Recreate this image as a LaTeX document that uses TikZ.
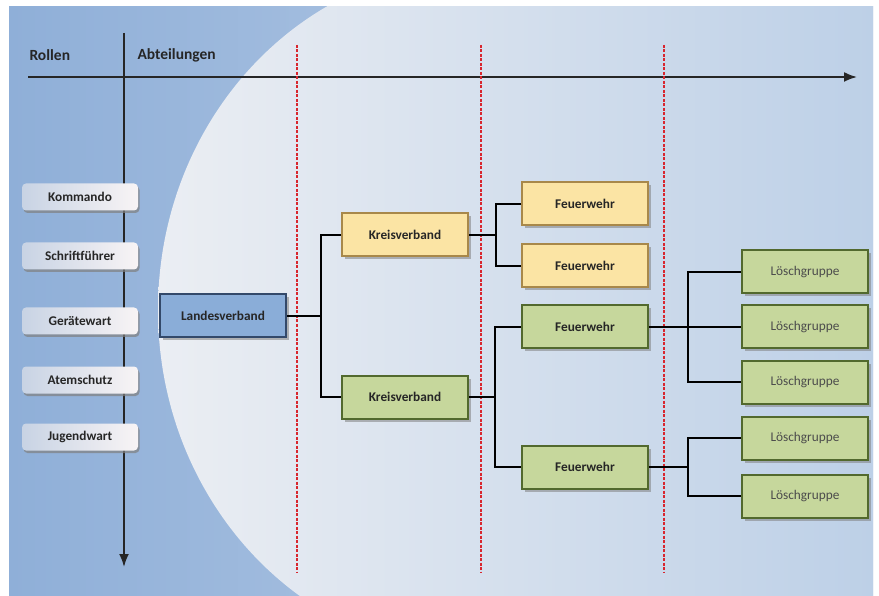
\documentclass[tikz,border=0pt]{standalone}
\usepackage{fontspec}
\setmainfont{Carlito}
\usepackage{tikz}
\usetikzlibrary{arrows.meta}
\usetikzlibrary{shadows}
\definecolor{BgLeft}{HTML}{8FAFD8}
\definecolor{BgRight}{HTML}{C2D3E9}
\definecolor{GlowLeft}{HTML}{EBEEF3}
\definecolor{GlowMid}{HTML}{DAE2EC}
\definecolor{GlowRight}{HTML}{BDD0E7}
\definecolor{RoleLeft}{HTML}{C8D3E4}
\definecolor{RoleRight}{HTML}{F8F4F5}
\definecolor{TextGray}{HTML}{262626}
\definecolor{LandFill}{HTML}{8AADD8}
\definecolor{LandDraw}{HTML}{33496A}
\definecolor{YellowFill}{HTML}{FBE4A4}
\definecolor{YellowDraw}{HTML}{A8884A}
\definecolor{GreenFill}{HTML}{C6D79C}
\definecolor{GreenDraw}{HTML}{52692E}
\definecolor{DivRed}{HTML}{D8262E}
\tikzstyle{RoleNode}=[rectangle, rounded corners=4pt, minimum width=116pt, minimum height=27pt, inner sep=0pt, left color=RoleLeft, right color=RoleRight, drop shadow={shadow xshift=1.5pt, shadow yshift=-2.5pt, opacity=.7}, font=\bfseries\fontsize{13.3}{16}\selectfont, text=TextGray]
\tikzstyle{OrgNode}=[rectangle, line width=2pt, minimum width=126pt, minimum height=43pt, inner sep=0pt, drop shadow={shadow xshift=2.5pt, shadow yshift=-3pt, opacity=.55}, font=\bfseries\fontsize{13.3}{16}\selectfont, text=TextGray]
\tikzstyle{LandNode}=[OrgNode, fill=LandFill, draw=LandDraw]
\tikzstyle{YellowNode}=[OrgNode, fill=YellowFill, draw=YellowDraw]
\tikzstyle{GreenNode}=[OrgNode, fill=GreenFill, draw=GreenDraw]
\tikzstyle{GroupNode}=[GreenNode, font=\fontsize{13.3}{16}\selectfont, text=black!70]
\tikzstyle{AxisEdge}=[->, line width=1.8pt, draw=black!85]
\tikzstyle{TreeEdge}=[line width=1.8pt, black]
\tikzstyle{LevelLine}=[line width=1.4pt, DivRed, dash pattern=on 3pt off 1.5pt]
\tikzset{>={Latex[length=13pt,width=10pt]}}

\begin{document}
\begin{tikzpicture}[x=1pt, y=-1pt]
\useasboundingbox (0,0) rectangle (879,596);
% background
\begin{scope}
\clip (9,7) rectangle (873,596);
\shade[left color=BgLeft, right color=BgRight] (9,7) rectangle (873,596);
\shade[left color=GlowLeft, middle color=GlowMid, right color=GlowRight] (480,-35) arc[start angle=270, end angle=90, x radius=322, y radius=345] -- (873,655) -- (873,-35) -- cycle;
\end{scope}

% axes
\coordinate (YTop) at (124,33);
\coordinate (YEnd) at (124,567);
\coordinate (XTop) at (28,77);
\coordinate (XEnd) at (857,77);
\draw[AxisEdge](YTop) -- (YEnd);
\draw[AxisEdge](XTop) -- (XEnd);
\node[anchor=west, font=\bfseries\fontsize{15.5}{18}\selectfont, text=TextGray](Rollen) at (26,55) {Rollen};
\node[anchor=west, font=\bfseries\fontsize{15.5}{18}\selectfont, text=TextGray](Abt) at (134,55) {Abteilungen};

% levels
\foreach \x in {297,481,664}
  \draw[LevelLine] (\x,45) -- (\x,573);

% roles
\node[RoleNode](R1) at (80,197) {Kommando};
\node[RoleNode](R2) at (80,256) {Schriftführer};
\node[RoleNode](R3) at (80,321) {Gerätewart};
\node[RoleNode](R4) at (80,380) {Atemschutz};
\node[RoleNode](R5) at (80,437) {Jugendwart};

% departments
\node[LandNode](LV) at (223,316) {Landesverband};
\node[YellowNode](KV1) at (405,235) {Kreisverband};
\node[GreenNode](KV2) at (405,397) {Kreisverband};
\node[YellowNode](FW1) at (585,204) {Feuerwehr};
\node[YellowNode](FW2) at (585,266) {Feuerwehr};
\node[GreenNode](FW3) at (585,327) {Feuerwehr};
\node[GreenNode](FW4) at (585,467) {Feuerwehr};
\node[GroupNode](LG1) at (805,272) {Löschgruppe};
\node[GroupNode](LG2) at (805,327) {Löschgruppe};
\node[GroupNode](LG3) at (805,382) {Löschgruppe};
\node[GroupNode](LG4) at (805,438) {Löschgruppe};
\node[GroupNode](LG5) at (805,496) {Löschgruppe};

\coordinate (J1) at (321,316);
\coordinate (J2) at (496,235);
\coordinate (J3) at (495,397);
\coordinate (J4) at (688,327);
\coordinate (J5) at (688,467);

\draw[TreeEdge](LV) -- (J1);
\draw[TreeEdge](KV1) -| (J1) |- (KV2);
\draw[TreeEdge](KV1) -- (J2);
\draw[TreeEdge](FW1) -| (J2) |- (FW2);
\draw[TreeEdge](KV2) -- (J3);
\draw[TreeEdge](FW3) -| (J3) |- (FW4);
\draw[TreeEdge](FW3) -- (LG2);
\draw[TreeEdge](LG1) -| (J4) |- (LG3);
\draw[TreeEdge](FW4) -- (J5);
\draw[TreeEdge](LG4) -| (J5) |- (LG5);
\end{tikzpicture}
\end{document}
